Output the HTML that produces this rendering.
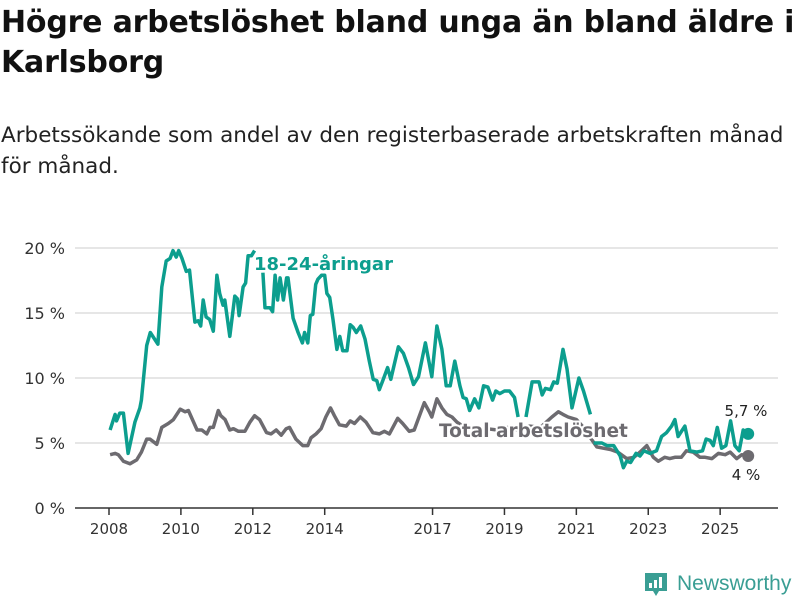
<!DOCTYPE html>
<html><head><meta charset="utf-8"><style>
body{margin:0;background:#fff;font-family:"Liberation Sans",sans-serif;}
#wrap{position:relative;width:800px;height:600px;overflow:hidden;}
h1{position:absolute;left:1px;top:3px;margin:0;font-family:"DejaVu Sans",sans-serif;font-size:30px;line-height:40px;font-weight:bold;color:#111;white-space:nowrap;letter-spacing:-0.2px}
p.sub{position:absolute;left:1px;top:120px;margin:0;font-family:"DejaVu Sans",sans-serif;font-size:21.5px;line-height:31px;color:#222;white-space:nowrap}
svg{position:absolute;left:0;top:0}
</style></head><body><div id="wrap">
<h1>Högre arbetslöshet bland unga än bland äldre i<br>Karlsborg</h1>
<p class="sub">Arbetssökande som andel av den registerbaserade arbetskraften månad<br>för månad.</p>
<svg id="chart" width="800" height="600"></svg>
</div>
<script>
const yTicks=[0,5,10,15,20];
const yTickLabels=["0 %","5 %","10 %","15 %","20 %"];
const xTicks=[2008,2010,2012,2014,2017,2019,2021,2023,2025];
const youthDates=[2008.03,2008.17,2008.21,2008.3,2008.4,2008.53,2008.72,2008.86,2008.9,2009.05,2009.15,2009.36,2009.47,2009.59,2009.7,2009.78,2009.87,2009.94,2010.03,2010.15,2010.24,2010.39,2010.48,2010.55,2010.62,2010.7,2010.8,2010.9,2011.0,2011.08,2011.17,2011.22,2011.36,2011.5,2011.57,2011.62,2011.73,2011.8,2011.87,2011.96,2012.05,2012.15,2012.28,2012.34,2012.48,2012.55,2012.62,2012.69,2012.76,2012.85,2012.94,2012.98,2013.12,2013.26,2013.38,2013.44,2013.53,2013.6,2013.67,2013.75,2013.81,2013.91,2014.0,2014.06,2014.14,2014.23,2014.34,2014.42,2014.5,2014.62,2014.71,2014.79,2014.88,2015.0,2015.12,2015.24,2015.35,2015.45,2015.52,2015.63,2015.75,2015.84,2016.05,2016.19,2016.33,2016.47,2016.61,2016.8,2016.98,2017.12,2017.26,2017.38,2017.49,2017.62,2017.76,2017.85,2017.94,2018.03,2018.17,2018.29,2018.42,2018.54,2018.67,2018.76,2018.87,2019.0,2019.14,2019.28,2019.38,2019.5,2019.6,2019.77,2019.96,2020.05,2020.14,2020.28,2020.37,2020.47,2020.63,2020.74,2020.88,2021.07,2021.2,2021.39,2021.44,2021.48,2021.71,2021.85,2022.04,2022.22,2022.31,2022.4,2022.51,2022.66,2022.77,2022.88,2023.05,2023.23,2023.37,2023.51,2023.65,2023.74,2023.83,2024.02,2024.16,2024.35,2024.51,2024.61,2024.72,2024.81,2024.92,2025.04,2025.16,2025.29,2025.41,2025.53,2025.64,2025.78];
const youthValues=[6.0,7.2,6.7,7.3,7.3,4.2,6.6,7.7,8.3,12.5,13.5,12.6,17,19,19.2,19.8,19.3,19.8,19.2,18.2,18.3,14.3,14.4,14,16,14.7,14.5,13.6,17.9,16.5,15.6,16,13.2,16.3,16.1,14.8,17,17.3,19.4,19.4,19.8,null,18.1,15.4,15.4,15.1,17.9,16,17.7,16,17.7,17.7,14.6,13.5,12.7,13.5,12.7,14.8,14.9,17.2,17.6,17.9,17.9,16.5,16.2,14.5,12.2,13.2,12.1,12.1,14.1,13.9,13.5,14.0,13,11.3,9.9,9.8,9.1,9.9,10.8,9.9,12.4,11.9,10.8,9.5,10.1,12.7,10.1,14.0,12.2,9.4,9.4,11.3,9.4,8.5,8.4,7.5,8.4,7.7,9.4,9.3,8.3,9.0,8.8,9.0,9.0,8.5,7.0,null,7.0,9.7,9.7,8.7,9.2,9.1,9.7,9.6,12.2,10.7,7.7,10.0,9.0,7.2,null,5.0,5.0,4.8,4.8,4.0,3.1,3.6,3.5,4.2,4.0,4.4,4.2,4.4,5.5,5.8,6.3,6.8,5.5,6.3,4.4,4.3,4.4,5.3,5.2,4.8,6.2,4.6,4.8,6.7,4.8,4.4,6.0,5.7];
const totalDates=[2008.03,2008.17,2008.26,2008.4,2008.58,2008.77,2008.9,2009.05,2009.14,2009.33,2009.47,2009.65,2009.79,2009.98,2010.12,2010.21,2010.45,2010.58,2010.72,2010.81,2010.9,2011.04,2011.11,2011.23,2011.36,2011.46,2011.6,2011.78,2011.92,2012.05,2012.19,2012.38,2012.51,2012.65,2012.79,2012.93,2013.02,2013.2,2013.39,2013.53,2013.62,2013.76,2013.9,2014.03,2014.16,2014.27,2014.41,2014.6,2014.71,2014.83,2014.99,2015.15,2015.34,2015.52,2015.66,2015.8,2016.03,2016.17,2016.35,2016.49,2016.77,2016.91,2016.98,2017.12,2017.26,2017.4,2017.54,2017.68,2017.9,2018.2,2018.5,2018.8,2019.1,2019.4,2019.7,2020.0,2020.32,2020.5,2020.63,2020.77,2021.0,2021.2,2021.39,2021.57,2021.75,2021.95,2022.15,2022.4,2022.6,2022.77,2022.96,2023.14,2023.28,2023.46,2023.6,2023.74,2023.92,2024.06,2024.25,2024.44,2024.58,2024.77,2024.95,2025.14,2025.28,2025.46,2025.6,2025.78];
const totalValues=[4.1,4.2,4.1,3.6,3.4,3.7,4.3,5.3,5.3,4.9,6.2,6.5,6.8,7.6,7.4,7.5,6.0,6.0,5.7,6.2,6.2,7.5,7.1,6.8,6.0,6.1,5.9,5.9,6.6,7.1,6.8,5.8,5.7,6.0,5.6,6.1,6.2,5.3,4.8,4.8,5.4,5.7,6.1,7.0,7.7,7.1,6.4,6.3,6.7,6.5,7.0,6.6,5.8,5.7,5.9,5.7,6.9,6.5,5.9,6.0,8.1,7.4,7.0,8.4,7.7,7.2,7.0,6.6,6.2,6.0,6.1,6.0,6.2,6.0,6.3,6.2,7.0,7.4,7.2,7.0,6.8,6.2,5.4,4.7,4.6,4.5,4.3,3.8,3.9,4.3,4.8,3.9,3.6,3.9,3.8,3.9,3.9,4.4,4.3,3.9,3.9,3.8,4.2,4.1,4.3,3.8,4.1,4.0];

const svg=document.getElementById('chart');
const NS='http://www.w3.org/2000/svg';
const X=d=>109+(d-2008)*35.95;
const Y=v=>508-v*13;
function mk(tag,attrs,parent){const e=document.createElementNS(NS,tag);for(const k in attrs)e.setAttribute(k,attrs[k]);(parent||svg).appendChild(e);return e;}
yTicks.forEach((t,i)=>{
  if(t>0){const g=mk('line',{x1:75,x2:778,y1:Y(t),y2:Y(t),stroke:'#dddddd','stroke-width':1.5});
  
  }
  const l=mk('text',{x:65,y:Y(t)+6,'text-anchor':'end','font-size':16,fill:'#333','font-family':'DejaVu Sans, sans-serif'});
  l.textContent=yTickLabels[i];
  
  
});
const ax=mk('line',{x1:75,x2:778,y1:508,y2:508,stroke:'#333','stroke-width':1.5});


xTicks.forEach(t=>{
  const tk=mk('line',{x1:X(t),x2:X(t),y1:508,y2:515,stroke:'#333','stroke-width':1.5});
  
  
  const l=mk('text',{x:X(t),y:534,'text-anchor':'middle','font-size':15,fill:'#333','font-family':'DejaVu Sans, sans-serif'});
  l.textContent=t;
  
  
});
function pathOf(ds,vs){let d='',pen=false;ds.forEach((x,i)=>{const v=vs[i];if(v==null){pen=false;return;}d+=(pen?'L':'M')+X(x).toFixed(1)+' '+Y(v).toFixed(1);pen=true;});return d;}
const tl=mk('path',{d:pathOf(totalDates,totalValues),fill:'none',stroke:'#6d6b70','stroke-width':3.5,'stroke-linejoin':'round'});


const yl=mk('path',{d:pathOf(youthDates,youthValues),fill:'none',stroke:'#0c9e8e','stroke-width':3.5,'stroke-linejoin':'round'});


const lastY=youthValues[youthValues.length-1], lastT=totalValues[totalValues.length-1];
const yd=mk('circle',{cx:X(youthDates[youthDates.length-1]),cy:Y(lastY),r:6,fill:'#0c9e8e'});


const td=mk('circle',{cx:X(totalDates[totalDates.length-1]),cy:Y(lastT),r:6,fill:'#6d6b70'});


const yv=mk('text',{x:746,y:Y(lastY)-18,'text-anchor':'middle','font-size':15,fill:'#222','font-family':'DejaVu Sans, sans-serif'});
yv.textContent=String(lastY).replace('.',',')+' %';


const tv=mk('text',{x:746,y:Y(lastT)+24,'text-anchor':'middle','font-size':15,fill:'#222','font-family':'DejaVu Sans, sans-serif'});
tv.textContent=String(lastT).replace('.',',')+' %';


const yLab=mk('text',{x:254,y:270,'font-size':18,'font-weight':'bold',fill:'#0c9e8e',stroke:'#fff','stroke-width':4,'paint-order':'stroke','font-family':'DejaVu Sans, sans-serif'});
yLab.textContent='18-24-åringar';


const tLab=mk('text',{x:439,y:437,'font-size':18.5,'font-weight':'bold',fill:'#6d6b70',stroke:'#fff','stroke-width':4,'paint-order':'stroke','font-family':'DejaVu Sans, sans-serif'});
tLab.textContent='Total arbetslöshet';


const lg=mk('g',{});


mk('path',{d:'M645 573 h22 v18 h-8 l-3 5 l-3 -5 h-8 z',fill:'#3a9e94'},lg);
mk('rect',{x:649,y:583,width:3,height:5,fill:'#fff'},lg);
mk('rect',{x:654,y:580,width:3,height:8,fill:'#fff'},lg);
mk('rect',{x:659,y:577,width:3,height:11,fill:'#fff'},lg);
const lt=mk('text',{x:677,y:590,'font-size':21,fill:'#3a9e94'},lg);
lt.textContent='Newsworthy';
</script></body></html>
